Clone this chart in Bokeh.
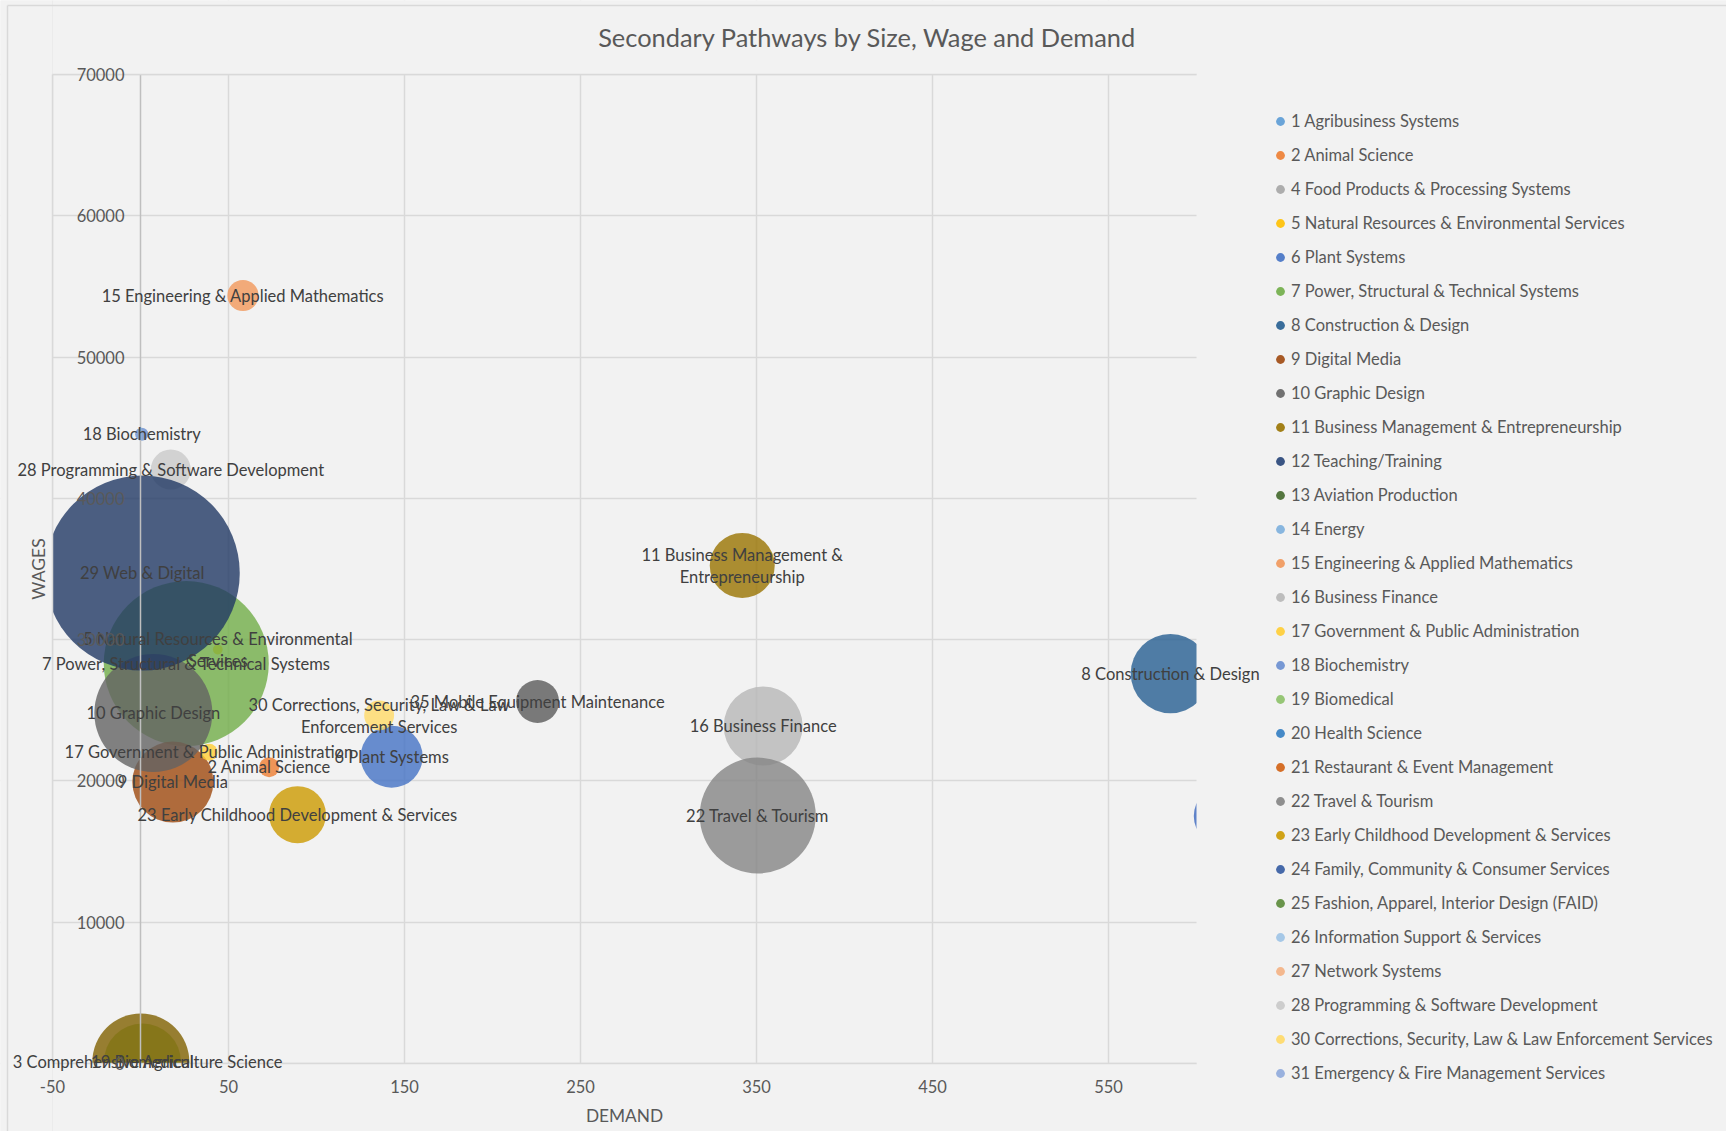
from math import pi
import numpy as np
from bokeh.plotting import figure
from bokeh.models import (ColumnDataSource, Range1d, FixedTicker, LabelSet, Label,
                          Legend, LegendItem)
from bokeh.core.properties import value
from bokeh.embed import file_html
from bokeh.resources import INLINE

FONT = "Lato"

# ---------------- data ----------------
labels = [
    "19 Biomedical",
    "2 Animal Science",
    "5 Natural Resources & Environmental\nServices",
    "6 Plant Systems",
    "7 Power, Structural & Technical Systems",
    "8 Construction & Design",
    "9 Digital Media",
    "10 Graphic Design",
    "11 Business Management &\nEntrepreneurship",
    "15 Engineering & Applied Mathematics",
    "16 Business Finance",
    "17 Government & Public Administration",
    "18 Biochemistry",
    "22 Travel & Tourism",
    "23 Early Childhood Development & Services",
    "28 Programming & Software Development",
    "29 Web & Digital",
    "30 Corrections, Security, Law & Law\nEnforcement Services",
    "3 Comprehensive Agriculture Science",
    "35 Mobile Equipment Maintenance",
    "",  # point beyond the right end of the axis (label not shown)
]
demand = [1.1, 73.1, 43.9, 142.7, 26.0, 585.2, 18.4, 7.3, 341.9, 58.2, 353.8,
          39.0, 0.7, 350.7, 89.2, 17.2, 1.0, 135.6, 0.2, 225.6, 615.5]
wages = [100, 20970, 29300, 21713, 28310, 27600, 19920, 24805, 35245, 54355, 23885,
         22030, 44540, 17550, 17610, 42040, 34715, 24630, 100, 25620, 17515]
size = [312, 21, 5, 202, 1432, 332, 345, 732, 222, 51, 328,
        15, 9, 708, 171, 84, 2000, 47, 495, 97, 189]
colors = ["#8CC168", "#ED7D31", "#FFC000", "#4472C4", "#70AD47", "#255E91", "#9E480E",
          "#636363", "#997300", "#F1975A", "#B7B7B7", "#FFCD33", "#698ED0", "#848484",
          "#CC9A00", "#C9C9C9", "#203864", "#FFD966", "#7F6000", "#5A5A5A", "#3A66BE"]

legend_names = [
    "1 Agribusiness Systems", "2 Animal Science", "4 Food Products & Processing Systems",
    "5 Natural Resources & Environmental Services", "6 Plant Systems",
    "7 Power, Structural & Technical Systems", "8 Construction & Design", "9 Digital Media",
    "10 Graphic Design", "11 Business Management & Entrepreneurship", "12 Teaching/Training",
    "13 Aviation Production", "14 Energy", "15 Engineering & Applied Mathematics",
    "16 Business Finance", "17 Government & Public Administration", "18 Biochemistry",
    "19 Biomedical", "20 Health Science", "21 Restaurant & Event Management",
    "22 Travel & Tourism", "23 Early Childhood Development & Services",
    "24 Family, Community & Consumer Services", "25 Fashion, Apparel, Interior Design (FAID)",
    "26 Information Support & Services", "27 Network Systems",
    "28 Programming & Software Development",
    "30 Corrections, Security, Law & Law Enforcement Services",
    "31 Emergency & Fire Management Services",
]
legend_colors = [
    "#5B9BD5", "#ED7D31", "#A5A5A5", "#FFC000", "#4472C4", "#70AD47", "#255E91", "#9E480E",
    "#636363", "#997300", "#264478", "#43682B", "#7CAFDD", "#F1975A", "#B7B7B7", "#FFCD33",
    "#698ED0", "#8CC168", "#327DC2", "#D26012", "#848484", "#CC9A00", "#335AA1", "#5A8A39",
    "#9DC3E6", "#F4B183", "#C9C9C9", "#FFD966", "#8FAADC",
]

x_ticks = [-50, 50, 150, 250, 350, 450, 550]
x_tick_labels = [str(t) for t in x_ticks]
y_ticks = [0, 10000, 20000, 30000, 40000, 50000, 60000, 70000]
y_tick_labels = [str(t) for t in y_ticks]

TITLE = "Secondary Pathways by Size, Wage and Demand"
X_TITLE = "DEMAND"
Y_TITLE = "WAGES"

X_MIN, X_MAX = -50, 600
Y_MIN, Y_MAX = 0, 70000

# ---------------- layout (pixels) ----------------
W, H = 1726, 1131
PL, PR, PT, PB = 52, 1196, 74, 1063      # plot area edges in the canvas


def xd(px):
    return X_MIN + (px - PL) * (X_MAX - X_MIN) / (PR - PL)


def yd(py):
    return Y_MIN + (PB - py) * (Y_MAX - Y_MIN) / (PB - PT)


BG = "#F2F2F2"
GRID = "#D9D9D9"
TXT = "#595959"
LBL = "#404040"
FS = "16.5px"
LINE_H = 22
LABEL_NUDGE = {"3 Comprehensive Agriculture Science": 7}

p = figure(width=W, height=H, x_range=Range1d(xd(0), xd(W)), y_range=Range1d(yd(H), yd(0)),
           output_backend="svg", toolbar_location=None,
           min_border_left=0, min_border_right=0, min_border_top=0, min_border_bottom=0,
           background_fill_color=BG, border_fill_color=BG, outline_line_color=None)
p.title.visible = False
p.xaxis.visible = False
p.yaxis.visible = False

p.xgrid.ticker = FixedTicker(ticks=x_ticks, minor_ticks=[])
p.ygrid.ticker = FixedTicker(ticks=y_ticks, minor_ticks=[])
p.grid.grid_line_color = GRID
p.grid.grid_line_width = 1.5

# bubbles
sz = np.array(size, dtype=float)
diam = 195.0 * np.sqrt(sz / sz.max())
src = ColumnDataSource(dict(x=demand, y=wages, d=diam, color=colors))
p.scatter("x", "y", size="d", source=src, fill_color="color", fill_alpha=0.8, line_color=None)

# vertical axis line at x = 0
p.segment(x0=[0], y0=[Y_MIN], x1=[0], y1=[Y_MAX], line_color="#BFBFBF", line_width=1.5)

# masks outside the plot area (act as clipping)
BIG = 1e7
p.quad(left=[-BIG, X_MAX, X_MIN, X_MIN], right=[X_MIN, BIG, X_MAX, X_MAX],
       bottom=[-BIG, -BIG, Y_MAX, -BIG], top=[BIG, BIG, BIG, Y_MIN],
       fill_color=BG, line_color=None)
# keep edge grid lines visible (left and top edges, bottom axis line)
p.segment(x0=[X_MIN, X_MIN, X_MIN], y0=[Y_MIN, Y_MAX, Y_MIN],
          x1=[X_MIN, X_MAX, X_MAX], y1=[Y_MAX, Y_MAX, Y_MIN], line_color=GRID, line_width=1.5)

# chart border (left and top)
p.segment(x0=[xd(7), xd(7)], y0=[yd(5), yd(5)], x1=[xd(7), xd(W + 10)], y1=[yd(H + 10), yd(5)],
          line_color=GRID, line_width=1.5)

# data labels (one row per text line so every line is centred)
lx, ly, lt, lxo, lyo = [], [], [], [], []
for xv, yv, lab in zip(demand, wages, labels):
    if not lab:
        continue
    lines = lab.split("\n")
    n = len(lines)
    for j, line in enumerate(lines):
        lx.append(xv)
        ly.append(yv)
        lt.append(line)
        lxo.append(LABEL_NUDGE.get(lab, 0))
        lyo.append(((n - 1) / 2 - j) * LINE_H)
lsrc_txt = ColumnDataSource(dict(x=lx, y=ly, t=lt, xo=lxo, yo=lyo))
p.add_layout(LabelSet(x="x", y="y", text="t", source=lsrc_txt, x_offset="xo", y_offset="yo",
                      text_align="center", text_baseline="middle", text_font=value(FONT),
                      text_font_size=FS, text_color=LBL))

# tick labels
ysrc = ColumnDataSource(dict(x=[0] * len(y_ticks), y=y_ticks, t=y_tick_labels))
p.add_layout(LabelSet(x="x", y="y", text="t", source=ysrc, x_offset=-16, text_align="right",
                      text_baseline="middle", text_font=value(FONT), text_font_size=FS,
                      text_color=TXT))
xsrc = ColumnDataSource(dict(x=x_ticks, y=[Y_MIN] * len(x_ticks), t=x_tick_labels))
p.add_layout(LabelSet(x="x", y="y", text="t", source=xsrc, y_offset=-22.7, text_align="center",
                      text_baseline="middle", text_font=value(FONT), text_font_size=FS,
                      text_color=TXT))

# legend
n_leg = len(legend_names)
lsrc = ColumnDataSource(dict(x=[np.nan] * n_leg, y=[np.nan] * n_leg, color=legend_colors))
lr = p.scatter("x", "y", source=lsrc, fill_color="color", fill_alpha=0.9, line_color=None, size=9)
items = [LegendItem(label=n, renderers=[lr], index=i) for i, n in enumerate(legend_names)]
LEG_TOP = 110
LEG_H = n_leg * 22 + (n_leg - 1) * 12
legend = Legend(items=items, location=(1269, H - LEG_TOP - LEG_H), glyph_width=22,
                glyph_height=22, label_height=22, spacing=12, padding=0, margin=0,
                label_standoff=0, background_fill_alpha=0, border_line_color=None,
                label_text_font=FONT, label_text_font_size=FS, label_text_color=TXT)
p.add_layout(legend)

# titles
p.add_layout(Label(x=xd(867), y=yd(36), text=TITLE, text_align="center",
                   text_baseline="middle", text_font=FONT, text_font_size="25.4px", text_color=TXT))
p.add_layout(Label(x=(X_MIN + X_MAX) / 2, y=yd(1115), text=X_TITLE, text_align="center",
                   text_baseline="middle", text_font=FONT, text_font_size="17.3px", text_color=TXT))
p.add_layout(Label(x=xd(38), y=(Y_MIN + Y_MAX) / 2, text=Y_TITLE, angle=pi / 2,
                   text_align="center", text_baseline="middle", text_font=FONT,
                   text_font_size="17.5px", text_color=TXT))

open("out.html", "w").write(file_html(p, INLINE))
